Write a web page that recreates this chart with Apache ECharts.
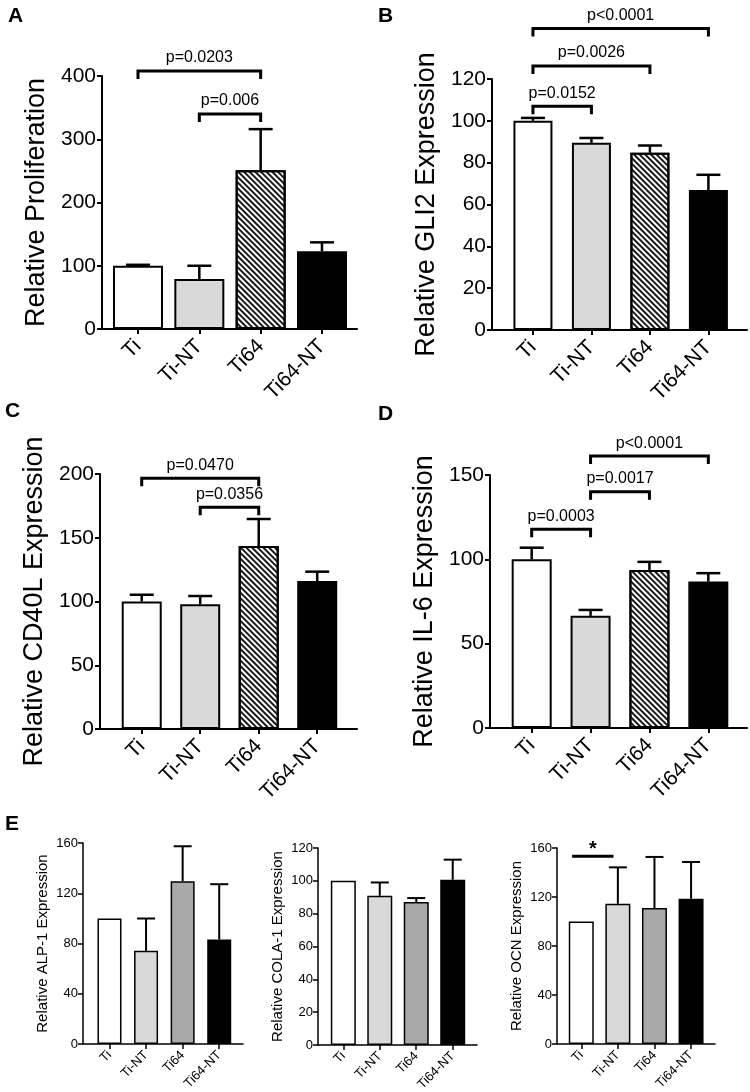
<!DOCTYPE html>
<html>
<head>
<meta charset="utf-8">
<script src="https://cdn.jsdelivr.net/npm/echarts@6/dist/echarts.min.js"></script>
<style>
html,body{margin:0;padding:0;background:#fff;}
#chart{width:750px;height:1092px;}
</style>
</head>
<body>
<div id="chart"></div>
<script>
// ---- data ----
const categories = ['Ti', 'Ti-NT', 'Ti64', 'Ti64-NT'];

const prolifMean = [100, 79, 251, 123];
const prolifErr  = [1.5, 21, 65, 14];

const gli2Mean = [100, 89.5, 84.7, 66.9];
const gli2Err  = [1.4, 2.3, 3.5, 7.3];

const cd40lMean = [100, 97.8, 143.5, 116];
const cd40lErr  = [5.3, 6.5, 21.2, 7.4];

const il6Mean = [100, 66.5, 93.7, 86.8];
const il6Err  = [6.9, 3.5, 4.8, 5.0];

const alpMean = [100, 74.2, 129.6, 83.2];
const alpErr  = [0, 25.7, 27.8, 44];

const colaMean = [100, 90.9, 87.1, 100.7];
const colaErr  = [0, 8.1, 2.4, 12.2];

const ocnMean = [100, 114.5, 111, 118.6];
const ocnErr  = [0, 29.7, 41.7, 30];

// brackets: [fromIndex, toIndex, yValue, label]
const bracketsA = [[0, 2, 408, 'p=0.0203'], [1, 2, 340, 'p=0.006']];
const bracketsB = [[0, 1, 107, 'p=0.0152'], [0, 2, 126.2, 'p=0.0026'], [0, 3, 144.2, 'p<0.0001']];
const bracketsC = [[0, 2, 196.6, 'p=0.0470'], [1, 2, 174, 'p=0.0356']];
const bracketsD = [[0, 1, 117.8, 'p=0.0003'], [1, 2, 140, 'p=0.0017'], [1, 3, 161.2, 'p<0.0001']];
const starE3 = [[-0.25, 0.88, 153.3, '*']];

// ---- styling ----
const FONT = '"Liberation Sans", Arial, Helvetica, sans-serif';
const hatch = {
  symbol: 'rect', symbolSize: 1,
  dashArrayX: [1, 0], dashArrayY: [1.6, 1.6],
  rotation: Math.PI / 4, color: '#1a1a1a'
};
const fillAD = ['#ffffff', '#d9d9d9', '#ffffff', '#000000'];
const fillE = ['#ffffff', '#d9d9d9', '#a9a9a9', '#000000'];

const panels = [
  {mean: prolifMean, err: prolifErr, name: 'Relative Proliferation', max: 400, interval: 100,
   grid: {left: 102, top: 76, width: 255, height: 253}, xmin: -0.587, xmax: 3.571, barW: 50,
   fills: fillAD, hatch: true, brackets: bracketsA, big: true},
  {mean: gli2Mean, err: gli2Err, name: 'Relative GLI2 Expression', max: 120, interval: 20,
   grid: {left: 492, top: 79, width: 255, height: 251}, xmin: -0.70, xmax: 3.66, barW: 39,
   fills: fillAD, hatch: true, brackets: bracketsB, big: true},
  {mean: cd40lMean, err: cd40lErr, name: 'Relative CD40L Expression', max: 200, interval: 50,
   grid: {left: 100, top: 474, width: 257, height: 255}, xmin: -0.713, xmax: 3.68, barW: 40,
   fills: fillAD, hatch: true, brackets: bracketsC, big: true},
  {mean: il6Mean, err: il6Err, name: 'Relative IL-6 Expression', max: 150, interval: 50,
   grid: {left: 490, top: 475, width: 257, height: 253}, xmin: -0.708, xmax: 3.657, barW: 40,
   fills: fillAD, hatch: true, brackets: bracketsD, big: true},
  {mean: alpMean, err: alpErr, name: 'Relative ALP-1 Expression', max: 160, interval: 40,
   grid: {left: 83, top: 843, width: 160, height: 201}, xmin: -0.724, xmax: 3.65, barW: 24,
   fills: fillE, hatch: false, brackets: [], big: false},
  {mean: colaMean, err: colaErr, name: 'Relative COLA-1 Expression', max: 120, interval: 20,
   grid: {left: 318, top: 848, width: 159, height: 197}, xmin: -0.694, xmax: 3.666, barW: 25,
   fills: fillE, hatch: false, brackets: [], big: false},
  {mean: ocnMean, err: ocnErr, name: 'Relative OCN Expression', max: 160, interval: 40,
   grid: {left: 557, top: 848, width: 158, height: 196}, xmin: -0.663, xmax: 3.654, barW: 25,
   fills: fillE, hatch: false, brackets: starE3, big: false, star: true}
];

const grids = [], xAxes = [], yAxes = [], series = [];
const catIdx = categories.map((c, i) => i);

panels.forEach((p, gi) => {
  const lw = p.big ? 2 : 1.5;
  const tickFont = p.big ? 21 : 13;
  const catFont = p.big ? 21 : 13;
  grids.push(Object.assign({containLabel: false, outerBoundsMode: 'none'}, p.grid));
  xAxes.push({
    type: 'value', gridIndex: gi, min: p.xmin, max: p.xmax,
    axisLine: {show: true, onZero: false, lineStyle: {color: '#000', width: lw}},
    axisTick: {show: true, customValues: catIdx, length: 5, lineStyle: {color: '#000', width: lw}},
    axisLabel: {show: true, customValues: catIdx, rotate: 45, margin: p.big ? 14 : 9,
      formatter: v => categories[Math.round(v)] || '',
      color: '#000', fontSize: catFont, fontFamily: FONT},
    splitLine: {show: false}
  });
  yAxes.push({
    type: 'value', gridIndex: gi, min: 0, max: p.max, interval: p.interval,
    axisLine: {show: true, onZero: false, lineStyle: {color: '#000', width: lw}},
    axisTick: {show: true, length: 5, lineStyle: {color: '#000', width: lw}},
    axisLabel: {color: '#000', fontSize: tickFont, margin: p.big ? 6 : 5, fontFamily: FONT},
    splitLine: {show: false},
    name: p.name, nameLocation: 'middle', nameRotate: 90,
    nameGap: p.big ? 52 : 33,
    nameTextStyle: {color: '#000', fontSize: p.big ? 27 : 15, fontFamily: FONT}
  });
  // bars
  series.push({
    type: 'bar', xAxisIndex: gi, yAxisIndex: gi, barWidth: p.barW, z: 2,
    data: p.mean.map((m, i) => {
      const st = {color: p.fills[i], borderColor: '#000', borderWidth: lw};
      if (p.hatch && i === 2) st.decal = hatch;
      return {value: [i, m], itemStyle: st};
    })
  });
  // error bars (upper only)
  const capW = p.big ? 24 : 18;
  series.push({
    type: 'custom', xAxisIndex: gi, yAxisIndex: gi, z: 3, clip: false,
    data: p.mean.map((m, i) => [i, m, m + p.err[i]]),
    encode: {x: 0, y: [1, 2]},
    renderItem: (params, api) => {
      const lo = api.value(1), hi = api.value(2);
      if (hi <= lo) return null;
      const a = api.coord([api.value(0), lo]);
      const b = api.coord([api.value(0), hi]);
      const style = {stroke: '#000', lineWidth: p.big ? 2.5 : 2};
      return {type: 'group', children: [
        {type: 'line', shape: {x1: a[0], y1: a[1], x2: b[0], y2: b[1]}, style},
        {type: 'line', shape: {x1: b[0] - capW / 2, y1: b[1], x2: b[0] + capW / 2, y2: b[1]}, style}
      ]};
    }
  });
  // significance brackets
  if (p.brackets.length) {
    series.push({
      type: 'custom', xAxisIndex: gi, yAxisIndex: gi, z: 4, clip: false,
      data: p.brackets.map(b => [b[0], b[2]]),
      encode: {x: 0, y: 1},
      renderItem: (params, api) => {
        const b = p.brackets[params.dataIndex];
        const p1 = api.coord([b[0], b[2]]);
        const p2 = api.coord([b[1], b[2]]);
        const drop = p.star ? 0 : 8;
        const children = [{
          type: 'polyline',
          shape: {points: [[p1[0], p1[1] + drop], [p1[0], p1[1]], [p2[0], p2[1]], [p2[0], p2[1] + drop]]},
          style: {stroke: '#000', lineWidth: 3, fill: null}
        }, {
          type: 'text',
          x: (p1[0] + p2[0]) / 2, y: p1[1] - (p.star ? 7 : 13),
          style: {text: b[3], fill: '#000', align: 'center', verticalAlign: 'middle',
            fontSize: p.star ? 20 : 16, fontWeight: p.star ? 'bold' : 'normal', fontFamily: FONT}
        }];
        return {type: 'group', children};
      }
    });
  }
});

const letters = [['A', 8, 6], ['B', 378, 6], ['C', 5, 401], ['D', 378, 404], ['E', 5, 814]];

const chart = echarts.init(document.getElementById('chart'), null, {renderer: 'canvas'});
chart.setOption({
  animation: false,
  backgroundColor: '#ffffff',
  grid: grids, xAxis: xAxes, yAxis: yAxes, series,
  graphic: letters.map(l => ({
    type: 'text', left: l[1], top: l[2],
    style: {text: l[0], fontSize: 21, fontWeight: 'bold', fill: '#000', fontFamily: FONT}
  }))
});
</script>
</body>
</html>
